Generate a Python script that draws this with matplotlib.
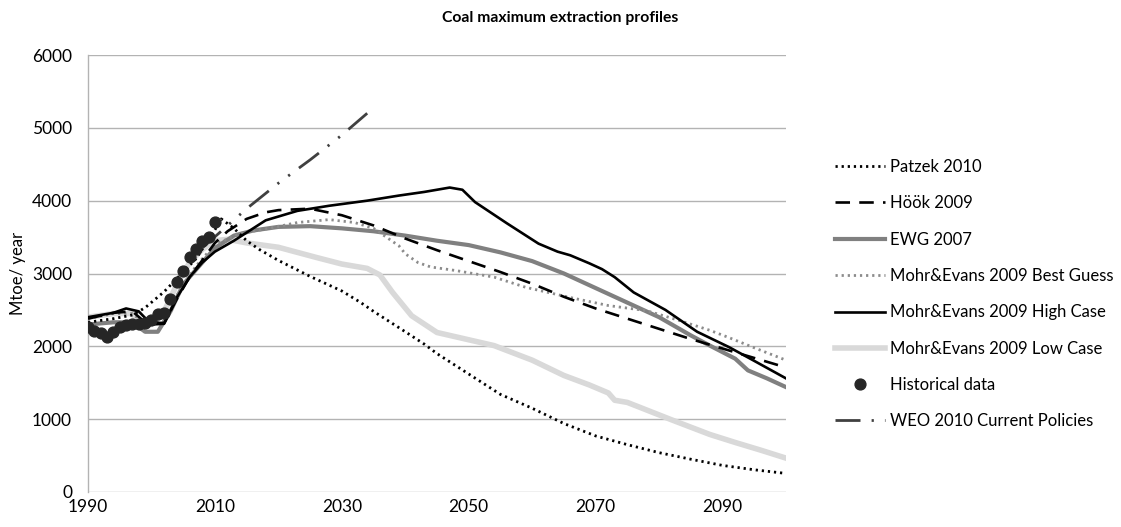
import matplotlib
matplotlib.use("Agg")
import matplotlib.pyplot as plt

# Coal maximum extraction profiles (Mtoe/year)

patzek_years = [1990, 1994, 1997, 1999, 2002, 2004, 2007, 2010, 2011, 2013, 2015, 2017,
                2020, 2025, 2030, 2033, 2035, 2040, 2043, 2045, 2050, 2055, 2060, 2065,
                2070, 2075, 2080, 2085, 2090, 2095, 2100]
patzek_vals = [2330, 2380, 2430, 2530, 2750, 2930, 3200, 3600, 3750, 3620, 3450, 3330,
               3180, 2960, 2760, 2600, 2480, 2200, 2030, 1900, 1620, 1340, 1150, 940,
               770, 650, 540, 450, 365, 305, 255]

hook_years = [1990, 1994, 1997, 1999, 2002, 2004, 2006, 2008, 2010, 2012, 2015, 2018,
              2020, 2025, 2030, 2035, 2040, 2045, 2050, 2055, 2060, 2065, 2070, 2075,
              2080, 2085, 2090, 2095, 2100]
hook_vals = [2380, 2460, 2480, 2330, 2320, 2650, 2950, 3180, 3420, 3580, 3750, 3840,
             3870, 3890, 3800, 3660, 3480, 3320, 3170, 3020, 2860, 2680, 2520, 2380,
             2240, 2100, 1970, 1840, 1710]

ewg_years = [1990, 1994, 1997, 1999, 2001, 2003, 2005, 2007, 2010, 2013, 2016, 2020,
             2025, 2030, 2035, 2040, 2045, 2050, 2055, 2060, 2065, 2068, 2070, 2075,
             2080, 2085, 2088, 2092, 2094, 2097, 2100]
ewg_vals = [2300, 2330, 2330, 2200, 2200, 2480, 2850, 3050, 3350, 3520, 3590, 3640,
            3650, 3620, 3580, 3520, 3450, 3390, 3290, 3170, 3000, 2880, 2800, 2600,
            2400, 2150, 2010, 1830, 1670, 1560, 1440]

best_years = [1990, 1994, 1997, 1999, 2002, 2004, 2007, 2010, 2014, 2018, 2023, 2028,
              2032, 2035, 2037, 2039, 2040, 2042, 2044, 2048, 2054, 2059, 2066, 2072,
              2078, 2083, 2088, 2091, 2095, 2100]
best_vals = [2380, 2450, 2450, 2300, 2350, 2700, 3100, 3400, 3550, 3610, 3700, 3740,
             3700, 3620, 3500, 3380, 3270, 3150, 3090, 3040, 2950, 2810, 2670, 2560,
             2490, 2360, 2220, 2120, 1980, 1810]

high_years = [1990, 1994, 1996, 1998, 2000, 2002, 2004, 2006, 2008, 2010, 2013, 2018,
              2023, 2028, 2034, 2039, 2043, 2047, 2049, 2051, 2056, 2061, 2064, 2066,
              2069, 2071, 2073, 2076, 2081, 2086, 2091, 2095, 2100]
high_vals = [2400, 2460, 2520, 2480, 2300, 2310, 2670, 2950, 3150, 3300, 3450, 3730,
             3860, 3930, 4000, 4070, 4120, 4180, 4150, 3980, 3690, 3410, 3300, 3250,
             3140, 3060, 2950, 2740, 2500, 2200, 1990, 1800, 1560]

low_years = [1990, 1994, 1997, 1998, 2000, 2002, 2004, 2006, 2008, 2010, 2012, 2015,
             2020, 2026, 2030, 2034, 2036, 2038, 2041, 2045, 2049, 2054, 2060, 2065,
             2069, 2072, 2073, 2075, 2082, 2088, 2092, 2096, 2100]
low_vals = [2400, 2450, 2450, 2320, 2300, 2480, 2850, 3150, 3330, 3450, 3470, 3420,
            3360, 3220, 3130, 3070, 2980, 2740, 2420, 2190, 2110, 2010, 1810, 1600,
            1470, 1360, 1260, 1230, 990, 790, 680, 575, 465]

hist_years = list(range(1990, 2011))
hist_vals = [2265, 2205, 2182, 2128, 2196, 2265, 2288, 2310, 2301, 2319, 2356,
             2448, 2456, 2653, 2881, 3041, 3224, 3338, 3452, 3497, 3703]

weo_years = [2008, 2015, 2020, 2025, 2030, 2034]
weo_vals = [3350, 3890, 4240, 4560, 4900, 5200]

plt.rcParams['font.family'] = ['Lato', 'DejaVu Sans']
FS_TICK = 12.5
FS_TITLE = 11.3
FS_LEG = 12

fig = plt.figure(figsize=(11.21, 5.27), dpi=100)
ax = fig.add_axes([88 / 1121, 1 - 492 / 527, (786 - 88) / 1121, (492 - 55) / 527])

ax.plot(patzek_years, patzek_vals, color='black', lw=2.0, linestyle=(0, (0.8, 1.4)),
        label='Patzek 2010', zorder=4)
ax.plot(hook_years, hook_vals, color='black', lw=1.9, linestyle=(0, (5.5, 3.5)),
        label='Höök 2009', zorder=4)
ax.plot(ewg_years, ewg_vals, color='#808080', lw=3.0, label='EWG 2007', zorder=3)
ax.plot(best_years, best_vals, color='#8c8c8c', lw=2.0, linestyle=(0, (0.8, 1.4)),
        label='Mohr&Evans 2009 Best Guess', zorder=3)
ax.plot(high_years, high_vals, color='black', lw=1.9, label='Mohr&Evans 2009 High Case',
        zorder=4)
ax.plot(low_years, low_vals, color='#d9d9d9', lw=4.0, label='Mohr&Evans 2009 Low Case',
        zorder=2)
ax.plot(hist_years, hist_vals, linestyle='none', marker='o', markersize=7.8,
        color='#262626', label='Historical data', zorder=5)
ax.plot(weo_years, weo_vals, color='#404040', lw=2.0,
        linestyle=(0, (9, 4, 0.8, 4, 0.8, 4)), label='WEO 2010 Current Policies', zorder=4)

ax.set_xlim(1990, 2100)
ax.set_ylim(0, 6000)
ax.set_xticks(range(1990, 2100, 20))
ax.set_yticks(range(0, 6001, 1000))
ax.grid(axis='y', color='#b3b3b3', lw=1.0)
ax.set_axisbelow(True)
for s in ['top', 'right', 'bottom']:
    ax.spines[s].set_visible(False)
ax.spines['left'].set_color('#b3b3b3')
ax.spines['left'].set_linewidth(1.0)
ax.tick_params(axis='both', length=0, labelsize=FS_TICK)
ax.tick_params(axis='y', pad=11.5)
ax.tick_params(axis='x', pad=5)

fig.text(0.5, 1 - 18 / 527, 'Coal maximum extraction profiles', ha='center', va='center',
         fontsize=FS_TITLE, fontweight='bold')
fig.text(18 / 1121, 1 - 273 / 527, 'Mtoe/ year', rotation=90, ha='center', va='center',
         fontsize=FS_LEG)

fig.legend(loc='upper left', bbox_to_anchor=(820 / 1121, 1 - 144 / 527), frameon=False,
           fontsize=FS_LEG, handlelength=3.0, handletextpad=0.3, labelspacing=1.22)

fig.savefig('out.png', dpi=100)
